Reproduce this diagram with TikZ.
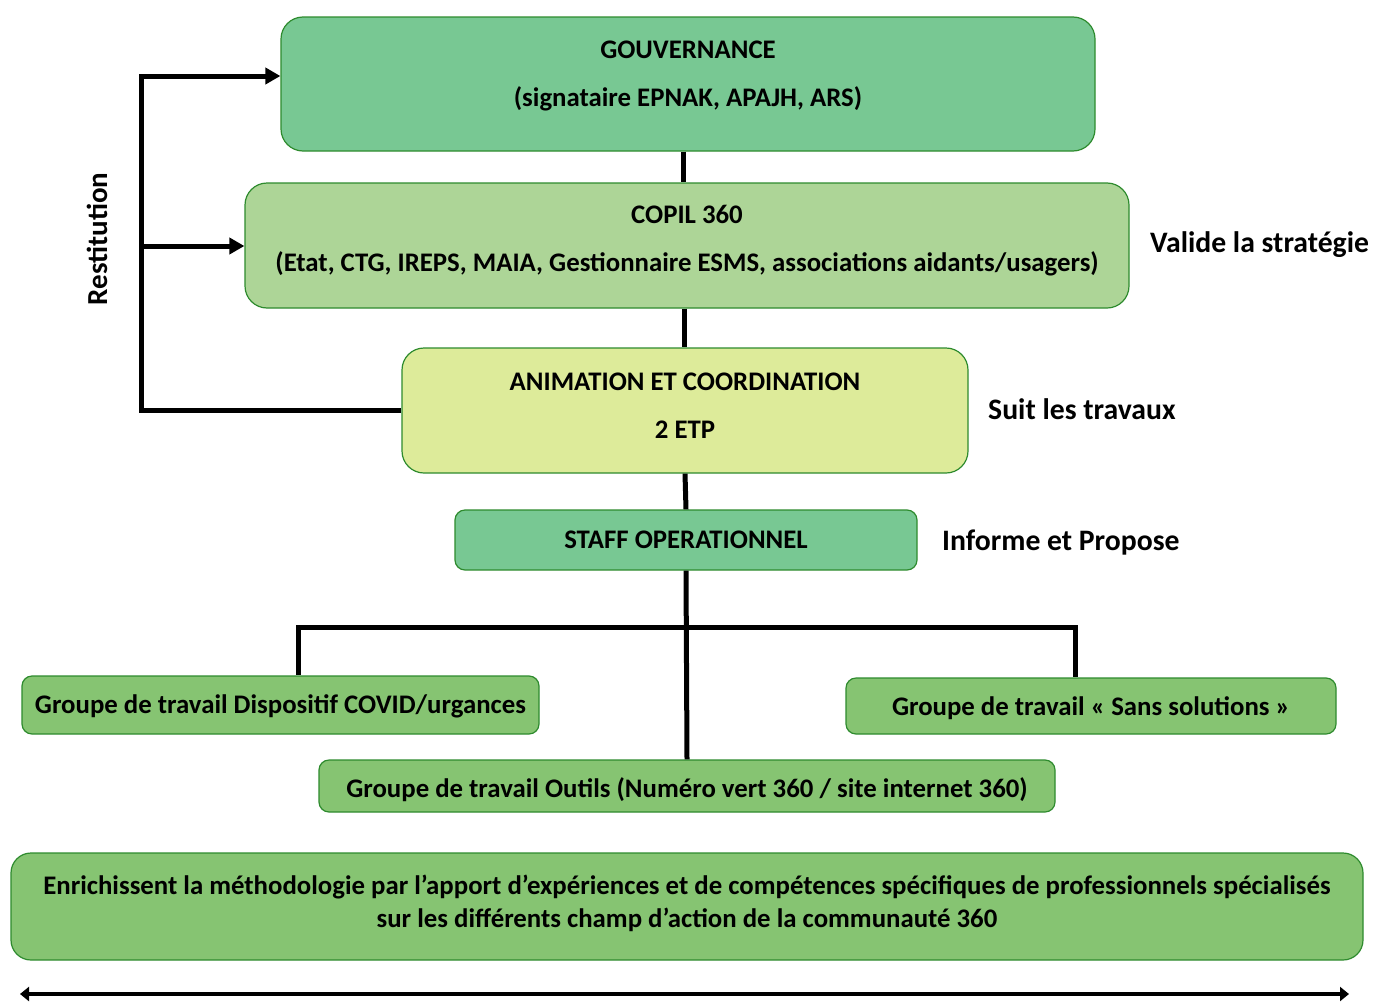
\documentclass[tikz,border=0pt]{standalone}
\usepackage{fontspec}
\setmainfont{Carlito}
\usetikzlibrary{arrows.meta,calc}
\definecolor{brd}{HTML}{2E8B2E}
\definecolor{gA}{HTML}{78C893}
\definecolor{gB}{HTML}{ADD597}
\definecolor{gC}{HTML}{DDEB9A}
\definecolor{gD}{HTML}{86C472}
\tikzset{
  box/.style={draw=brd, line width=1.2pt, rounded corners=#1, inner sep=0pt},
  box/.default=22pt,
  txt/.style={align=center, inner sep=0pt, font=\fontsize{26.8}{48}\selectfont\bfseries},
  conn/.style={line width=5pt, line join=miter},
  arr/.style={line width=5pt, -{Triangle[length=15pt,width=16pt]}},
  side/.style={anchor=west, inner sep=0pt, font=\fontsize{29.7}{34}\selectfont\bfseries},
}
\begin{document}
\begin{tikzpicture}[x=1pt,y=-1pt]
\useasboundingbox (0,0) rectangle (1375,1001);
\fill[white] (0,0) rectangle (1375,1001);

\node[box, fill=gA, minimum width=814pt, minimum height=134pt] (gouv) at (688,84) {};
\node[txt] (gouvt) at (688,76) {GOUVERNANCE\\(signataire EPNAK, APAJH, ARS)};
\node[box, fill=gB, minimum width=884pt, minimum height=125pt] (copil) at (687,245.5) {};
\node[txt] (copilt) at (687,241) {COPIL 360\\(Etat, CTG, IREPS, MAIA, Gestionnaire ESMS, associations aidants/usagers)};
\node[box, fill=gC, minimum width=566pt, minimum height=125pt] (anim) at (685,410.5) {};
\node[txt] (animt) at (685,406) {ANIMATION ET COORDINATION\\2 ETP};
\node[box=10pt, fill=gA, minimum width=462pt, minimum height=60pt] (staff) at (686,540) {};
\node[txt] (stafft) at (686,540) {STAFF OPERATIONNEL};
\node[box=10pt, fill=gD, minimum width=517pt, minimum height=58pt] (covid) at (280.5,705) {};
\node[txt] (covidt) at (280.5,706) {Groupe de travail Dispositif COVID/urgances};
\node[box=10pt, fill=gD, minimum width=490pt, minimum height=56pt] (sans) at (1091,706) {};
\node[txt] (sanst) at (1091,708) {Groupe de travail « Sans solutions »};
\node[box=10pt, fill=gD, minimum width=736pt, minimum height=52pt] (outils) at (687,786) {};
\node[txt] (outilst) at (687,790) {Groupe de travail Outils (Numéro vert 360 / site internet 360)};
\node[box=20pt, fill=gD, minimum width=1352pt, minimum height=107pt] (enrich) at (687,906.5) {};
\node[txt, font=\fontsize{26.8}{33}\selectfont\bfseries] (enricht) at (687,903.5)
  {Enrichissent la méthodologie par l’apport d’expériences et de compétences spécifiques de professionnels spécialisés\\sur les différents champ d’action de la communauté 360};

% vertical chain
\draw[conn] (gouv.south -| 683,0) -- (copil.north -| 683,0);
\draw[conn] (copil.south -| 684,0) -- (anim.north -| 684,0);
\draw[conn] (anim.south) -- (staff.north);
\draw[conn] (staff.south) -- (outils.north);
\coordinate (br) at ($(staff.south)+(0,57)$);
\draw[conn] (br) -| ($(covid.north)+(18,0)$);
\draw[conn] (br) -| ($(sans.north)+(-16,0)$);

% restitution
\coordinate (rt) at (141,74);
\coordinate (rb) at (141,410.5);
\draw[conn] (anim.west) -- (rb) -- (rt);
\draw[arr] (139,76) -- (gouv.west |- 0,76);
\draw[arr] (141,246) -- (copil.west |- 0,246);
\node[rotate=90, inner sep=0pt, font=\fontsize{29}{34}\selectfont\bfseries] (rest) at (97,239) {Restitution};

% side labels
\node[side] (valide) at (1150,245) {Valide la stratégie};
\node[side] (suit) at (988,409) {Suit les travaux};
\node[side] (inform) at (942,543) {Informe et Propose};

% bottom double arrow
\coordinate (bl) at (20,994);
\coordinate (bri) at (1349,994);
\draw[line width=4.5pt, {Triangle[length=9pt,width=14pt]}-{Triangle[length=9pt,width=14pt]}] (bl) -- (bri);
\end{tikzpicture}
\end{document}
